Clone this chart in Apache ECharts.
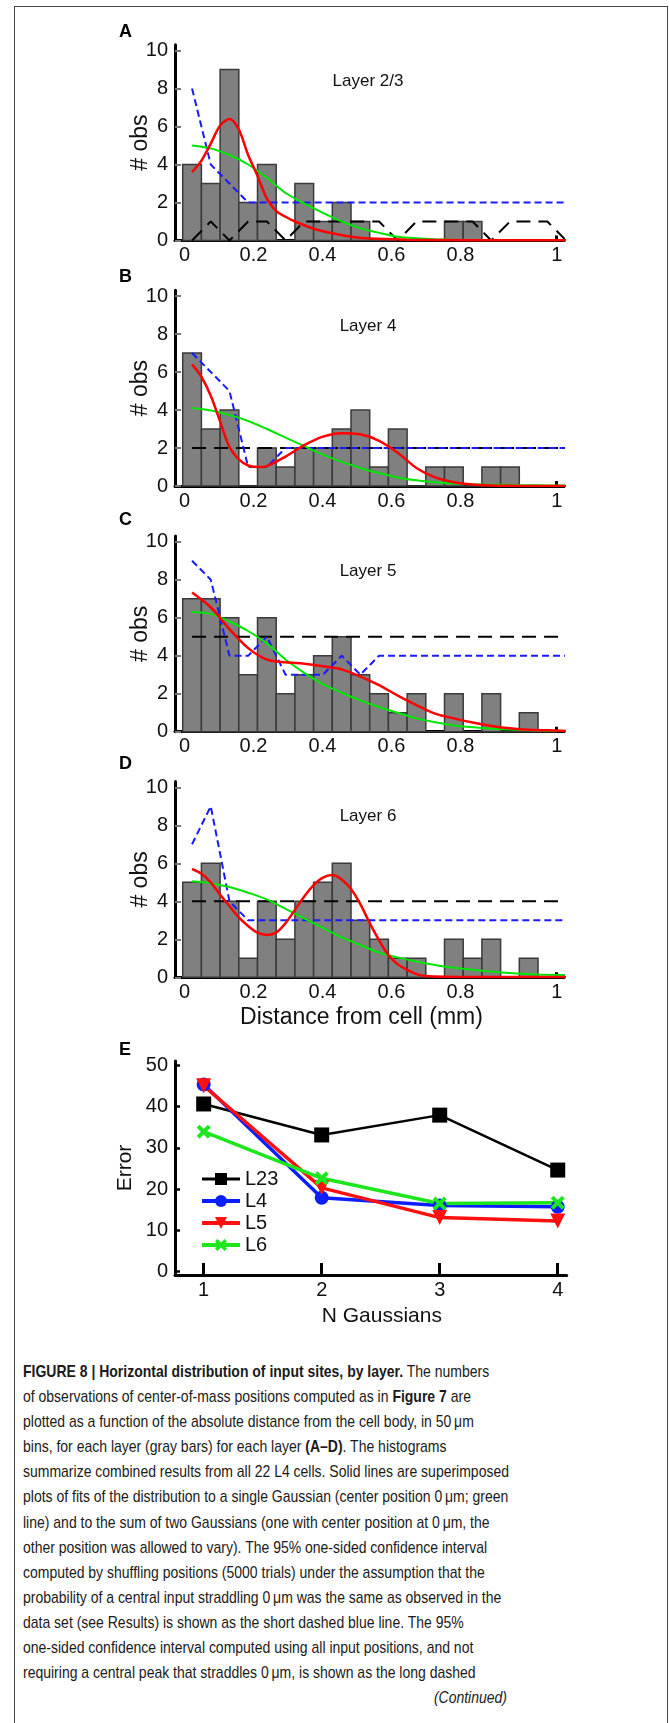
<!DOCTYPE html>
<html>
<head>
<meta charset="utf-8">
<script src="https://cdn.jsdelivr.net/npm/echarts@6/dist/echarts.min.js"></script>
<style>
html,body{margin:0;padding:0;background:#fff;}
body{width:669px;height:1723px;position:relative;overflow:hidden;font-family:"Liberation Sans",Arial,Helvetica,sans-serif;}
#frame{position:absolute;left:14px;top:6px;width:654px;height:1740px;border:1px solid #444;border-bottom:none;box-sizing:border-box;}
#chart{position:absolute;left:0;top:0;width:669px;height:1340px;}
#caption{position:absolute;left:23px;top:1359px;font-size:17px;line-height:25.1px;color:#1a1a1a;transform-origin:0 0;}
#caption .ln{white-space:nowrap;height:25.1px;}
#caption .cont{text-align:right;}
</style>
</head>
<body>
<div id="frame"></div>
<div id="chart"></div>
<div id="caption">
<div class="ln"><b>FIGURE 8 | Horizontal distribution of input sites, by layer.</b> The numbers</div>
<div class="ln">of observations of center-of-mass positions computed as in <b>Figure 7</b> are</div>
<div class="ln">plotted as a function of the absolute distance from the cell body, in 50&#8201;μm</div>
<div class="ln">bins, for each layer (gray bars) for each layer <b>(A–D)</b>. The histograms</div>
<div class="ln">summarize combined results from all 22 L4 cells. Solid lines are superimposed</div>
<div class="ln">plots of fits of the distribution to a single Gaussian (center position 0&#8201;μm; green</div>
<div class="ln">line) and to the sum of two Gaussians (one with center position at 0&#8201;μm, the</div>
<div class="ln">other position was allowed to vary). The 95% one-sided confidence interval</div>
<div class="ln">computed by shuffling positions (5000 trials) under the assumption that the</div>
<div class="ln">probability of a central input straddling 0&#8201;μm was the same as observed in the</div>
<div class="ln">data set (see Results) is shown as the short dashed blue line. The 95%</div>
<div class="ln">one-sided confidence interval computed using all input positions, and not</div>
<div class="ln">requiring a central peak that straddles 0&#8201;μm, is shown as the long dashed</div>
<div class="ln cont"><i>(Continued)</i></div>
</div>
<script>
// ---------------- data ----------------
const binWidth = 0.05;
const binCenters = [0.025,0.075,0.125,0.175,0.225,0.275,0.325,0.375,0.425,0.475,0.525,0.575,0.625,0.675,0.725,0.775,0.825,0.875,0.925,0.975];
const curveX = [0.025,0.075,0.125,0.175,0.225,0.275,0.325,0.375,0.425,0.475,0.525,0.575,0.625,0.675,0.725,0.775,0.825,0.875,0.925,0.975,1.025];

const layerNames = ['Layer 2/3','Layer 4','Layer 5','Layer 6'];
const panelLetters = ['A','B','C','D','E'];

const countsA = [4,3,9,2,4,0,3,1,2,1,0,0,0,0,1,1,0,0,0,0];
const countsB = [7,3,4,0,2,1,2,2,3,4,1,3,0,1,1,0,1,1,0,0];
const countsC = [7,7,6,3,6,2,3,4,5,3,2,1,2,0,2,0,2,0,1,0];
const countsD = [5,6,4,1,4,2,4,5,6,3,2,1,1,0,2,1,2,0,1,0];

// short dashed blue: shuffled 95% CI (at curveX)
const blueA = [8,4,3,2,2,2,2,2,2,2,2,2,2,2,2,2,2,2,2,2,2];
const blueB = [7,6,5,1,1,2,2,2,2,2,2,2,2,2,2,2,2,2,2,2,2];
const blueC = [9,8,4,4,5,3,3,3,4,3,4,4,4,4,4,4,4,4,4,4,4];
const blueD = [7,9,4,3,3,3,3,3,3,3,3,3,3,3,3,3,3,3,3,3,3];

// long dashed black: all-positions 95% CI (at curveX)
const blackA = [0,1,0,1,1,0,1,1,1,1,1,0,1,1,1,1,0,1,1,1,0];
const blackB = [2,2,2,2,2,2,2,2,2,2,2,2,2,2,2,2,2,2,2,2,2];
const blackC = [5,5,5,5,5,5,5,5,5,5,5,5,5,5,5,5,5,5,5,5,5];
const blackD = [4,4,4,4,4,4,4,4,4,4,4,4,4,4,4,4,4,4,4,4,4];

// green: single Gaussian fit (at curveX)
const greenA = [5.0,4.85,4.5,4.0,3.3,2.5,1.95,1.45,1.0,0.65,0.4,0.2,0.12,0.07,0.04,0.02,0.01,0.01,0.01,0.01,0.01];
const greenB = [4.1,3.97,3.73,3.42,3.0,2.55,2.1,1.65,1.28,0.95,0.68,0.45,0.3,0.2,0.13,0.09,0.07,0.05,0.04,0.03,0.02];
const greenC = [6.3,6.2,5.8,5.3,4.65,3.8,3.1,2.5,2.05,1.65,1.3,1.0,0.7,0.5,0.33,0.23,0.16,0.11,0.08,0.05,0.04];
const greenD = [5.05,4.95,4.75,4.45,4.1,3.6,3.1,2.6,2.1,1.7,1.3,1.05,0.83,0.65,0.5,0.4,0.3,0.22,0.17,0.13,0.12];

// red: sum of two Gaussians fit, [x, y]
const redA = [[0.025,3.6],[0.05,4.2],[0.075,5.1],[0.1,6.05],[0.125,6.4],[0.15,5.85],[0.175,4.5],[0.2,3.4],[0.225,2.2],[0.25,1.55],[0.275,1.25],[0.3,1.0],[0.35,0.62],[0.4,0.38],[0.45,0.2],[0.5,0.1],[0.6,0.04],[0.7,0.02],[0.8,0.01],[0.9,0.01],[1.025,0.01]];
const redB = [[0.025,6.4],[0.05,5.75],[0.075,4.75],[0.1,3.4],[0.125,2.05],[0.15,1.4],[0.175,1.08],[0.2,1.0],[0.225,1.05],[0.275,1.55],[0.325,2.15],[0.375,2.6],[0.425,2.78],[0.475,2.72],[0.525,2.38],[0.575,1.75],[0.625,0.95],[0.675,0.45],[0.725,0.2],[0.775,0.08],[0.825,0.03],[0.875,0.01],[0.925,0.0],[1.025,0.0]];
const redC = [[0.025,7.33],[0.075,6.55],[0.125,5.4],[0.175,4.4],[0.225,3.8],[0.275,3.65],[0.325,3.58],[0.375,3.45],[0.425,3.28],[0.475,2.9],[0.525,2.45],[0.575,1.9],[0.625,1.4],[0.675,0.95],[0.725,0.7],[0.775,0.48],[0.825,0.3],[0.875,0.18],[0.925,0.1],[0.975,0.07],[1.025,0.04]];
const redD = [[0.025,5.7],[0.05,5.45],[0.075,5.0],[0.1,4.35],[0.125,3.75],[0.15,3.15],[0.175,2.7],[0.2,2.35],[0.225,2.23],[0.25,2.35],[0.275,2.85],[0.3,3.55],[0.325,4.25],[0.35,4.85],[0.375,5.25],[0.4,5.38],[0.425,5.15],[0.45,4.65],[0.475,3.85],[0.5,2.85],[0.525,1.95],[0.55,1.17],[0.575,0.68],[0.6,0.39],[0.625,0.17],[0.65,0.07],[0.7,0.03],[0.8,0.02],[1.025,0.02]];

const yTicks = [0,2,4,6,8,10];
const xTickLabels = [0,0.2,0.4,0.6,0.8];
const xEndTick = [1];

// panel E
const nGaussians = [1,2,3,4];
const errL23 = [40.6,33.1,37.9,24.6];
const errL4  = [45.3,17.9,16.0,15.7];
const errL5  = [45.0,20.3,13.1,12.3];
const errL6  = [33.9,22.6,16.5,16.7];
const errTicks = [0,10,20,30,40,50];

// ---------------- layout ----------------
const FONT = '"Liberation Sans", Arial, Helvetica, sans-serif';
const TICK_FS = 20;
const gridTops = [44.8, 290.3, 536, 781.6];
const gridH = 195.7;
const letterY = [23.5, 268.5, 511.5, 755.5, 1041];
const layerLabelY = [81.7, 326.3, 571.7, 816.7];

const panels = [
  {counts:countsA, blue:blueA, black:blackA, green:greenA, red:redA},
  {counts:countsB, blue:blueB, black:blackB, green:greenB, red:redB},
  {counts:countsC, blue:blueC, black:blackC, green:greenC, red:redC},
  {counts:countsD, blue:blueD, black:blackD, green:greenD, red:redD}
];

const grid = [], xAxis = [], yAxis = [], series = [], graphic = [];

panels.forEach((p, i) => {
  grid.push({left:175, top:gridTops[i], width:389, height:gridH});
  const primary = {
    type:'value', gridIndex:i, min:-0.0206, max:1.0195, position:'bottom',
    axisLine:{show:true, onZero:false, lineStyle:{color:'#000', width:3}},
    axisTick:{show:true, inside:true, length:5, customValues:xEndTick, lineStyle:{color:'#000', width:3}},
    axisLabel:{show:true, customValues:xEndTick, fontSize:TICK_FS, color:'#111', margin:5, fontFamily:FONT},
    splitLine:{show:false}
  };
  if (i === 3) {
    primary.name = 'Distance from cell (mm)';
    primary.nameLocation = 'middle';
    primary.nameGap = 29;
    primary.nameMoveOverlap = false;
    primary.nameTextStyle = {fontSize:23, color:'#111', fontFamily:FONT, padding:[0,16,0,0]};
  }
  xAxis.push(primary);
  xAxis.push({
    type:'value', gridIndex:i, min:-0.0275, max:1.1, position:'bottom',
    axisLine:{show:false}, axisTick:{show:false}, splitLine:{show:false},
    axisLabel:{show:true, customValues:xTickLabels, fontSize:TICK_FS, color:'#111', margin:5, fontFamily:FONT}
  });
  yAxis.push({
    type:'value', gridIndex:i, min:0, max:10.3,
    axisLine:{show:true, onZero:false, lineStyle:{color:'#000', width:3}},
    axisTick:{show:true, inside:true, length:6, customValues:yTicks, lineStyle:{color:'#777', width:2}},
    axisLabel:{show:true, customValues:yTicks, fontSize:TICK_FS, color:'#111', margin:7, fontFamily:FONT},
    splitLine:{show:false},
    name:'# obs', nameLocation:'middle', nameGap:23, nameMoveOverlap:false,
    nameTextStyle:{fontSize:23, color:'#111', fontFamily:FONT}
  });
  const xi = 2*i;
  series.push({
    type:'custom', xAxisIndex:xi, yAxisIndex:i, silent:true, clip:false,
    data: p.counts.map((c,k) => [binCenters[k], c]),
    encode:{x:0, y:1},
    renderItem: function(params, api){
      const x = api.value(0), y = api.value(1);
      const p0 = api.coord([x - binWidth/2, 0]);
      const p1 = api.coord([x + binWidth/2, y]);
      return {type:'rect', shape:{x:p0[0], y:p1[1], width:p1[0]-p0[0], height:p0[1]-p1[1]},
              style:{fill:'#808080', stroke:'#3a3a3a', lineWidth:1.5}};
    }
  });
  series.push({type:'line', xAxisIndex:xi, yAxisIndex:i, silent:true, symbol:'none',
    data: curveX.map((x,k)=>[x, p.black[k]]),
    lineStyle:{color:'#000', width:2, type:[14,8]}});
  series.push({type:'line', xAxisIndex:xi, yAxisIndex:i, silent:true, symbol:'none',
    data: curveX.map((x,k)=>[x, p.blue[k]]),
    lineStyle:{color:'#1a1aff', width:2, type:[7,4]}});
  series.push({type:'line', xAxisIndex:xi, yAxisIndex:i, silent:true, symbol:'none', smooth:0.3,
    data: curveX.map((x,k)=>[x, p.green[k]]),
    lineStyle:{color:'#00e600', width:2}});
  series.push({type:'line', xAxisIndex:xi, yAxisIndex:i, silent:true, symbol:'none', smooth:0.3,
    data: p.red,
    lineStyle:{color:'#ff0000', width:2.5}});

  graphic.push({type:'text', x:119, y:letterY[i], silent:true,
    style:{text:panelLetters[i], font:'bold 18px ' + FONT, fill:'#000', verticalAlign:'top', textVerticalAlign:'top'}});
  graphic.push({type:'text', x:368, y:layerLabelY[i], silent:true,
    style:{text:layerNames[i], font:'17px ' + FONT, fill:'#111', align:'center', verticalAlign:'middle', textAlign:'center', textVerticalAlign:'middle'}});
});

// panel E
grid.push({left:175, top:1061, width:391.7, height:214});
xAxis.push({
  type:'value', gridIndex:4, min:0.757, max:4.076,
  axisLine:{show:true, onZero:false, lineStyle:{color:'#000', width:3}},
  axisTick:{show:true, inside:true, length:12, customValues:nGaussians, lineStyle:{color:'#000', width:3}},
  axisLabel:{show:true, customValues:nGaussians, fontSize:TICK_FS, color:'#111', margin:5, fontFamily:FONT},
  splitLine:{show:false},
  name:'N Gaussians', nameLocation:'middle', nameGap:31, nameMoveOverlap:false,
  nameTextStyle:{fontSize:21, color:'#111', fontFamily:FONT, padding:[0,0,0,22]}
});
yAxis.push({
  type:'value', gridIndex:4, min:-0.8, max:51,
  axisLine:{show:true, onZero:false, lineStyle:{color:'#000', width:3}},
  axisTick:{show:true, inside:true, length:5, customValues:errTicks, lineStyle:{color:'#000', width:2.5}},
  axisLabel:{show:true, customValues:errTicks, fontSize:TICK_FS, color:'#111', margin:7, fontFamily:FONT},
  splitLine:{show:false},
  name:'Error', nameLocation:'middle', nameGap:39, nameMoveOverlap:false,
  nameTextStyle:{fontSize:21, color:'#111', fontFamily:FONT}
});
const xMark = 'path://M0,2 L2,0 L5,3 L8,0 L10,2 L7,5 L10,8 L8,10 L5,7 L2,10 L0,8 L3,5 Z';
const eSeries = [
  {name:'L23', vals:errL23, color:'#000000', width:2.5, symbol:'rect', size:15, rotate:0},
  {name:'L4',  vals:errL4,  color:'#0a1eff', width:3.5, symbol:'circle', size:14, rotate:0},
  {name:'L5',  vals:errL5,  color:'#ff1010', width:3.5, symbol:'triangle', size:15, rotate:180},
  {name:'L6',  vals:errL6,  color:'#1ee61e', width:3.5, symbol:xMark, size:14, rotate:0}
];
eSeries.forEach(s => {
  series.push({
    type:'line', name:s.name, xAxisIndex:8, yAxisIndex:4, silent:true,
    data: nGaussians.map((n,k)=>[n, s.vals[k]]),
    symbol:s.symbol, symbolSize:s.size, symbolRotate:s.rotate, showSymbol:true,
    itemStyle:{color:s.color, borderWidth:0},
    lineStyle:{color:s.color, width:s.width}
  });
});
graphic.push({type:'text', x:119, y:letterY[4], silent:true,
  style:{text:panelLetters[4], font:'bold 18px ' + FONT, fill:'#000', verticalAlign:'top', textVerticalAlign:'top'}});

const chart = echarts.init(document.getElementById('chart'), null, {renderer:'canvas'});
chart.setOption({
  animation:false,
  backgroundColor:'transparent',
  textStyle:{fontFamily:FONT},
  grid, xAxis, yAxis, series, graphic,
  legend:{
    data: eSeries.map(s => ({name:s.name, lineStyle:{width:s.width + 0.5, color:s.color}, itemStyle:{color:s.color}})),
    orient:'vertical', left:195, top:1164,
    itemWidth:38, itemHeight:15, itemGap:2, selectedMode:false,
    textStyle:{fontSize:20, color:'#111', fontFamily:FONT}
  }
});

// caption: condensed to match the reference line lengths
(function(){
  const cap = document.getElementById('caption');
  const probe = cap.children[4];
  const r = document.createRange();
  r.selectNodeContents(probe);
  const w = r.getBoundingClientRect().width;
  const s = 486 / w;
  cap.style.transform = 'scaleX(' + s + ')';
  cap.style.width = (484 / s) + 'px';
})();
</script>
</body>
</html>
